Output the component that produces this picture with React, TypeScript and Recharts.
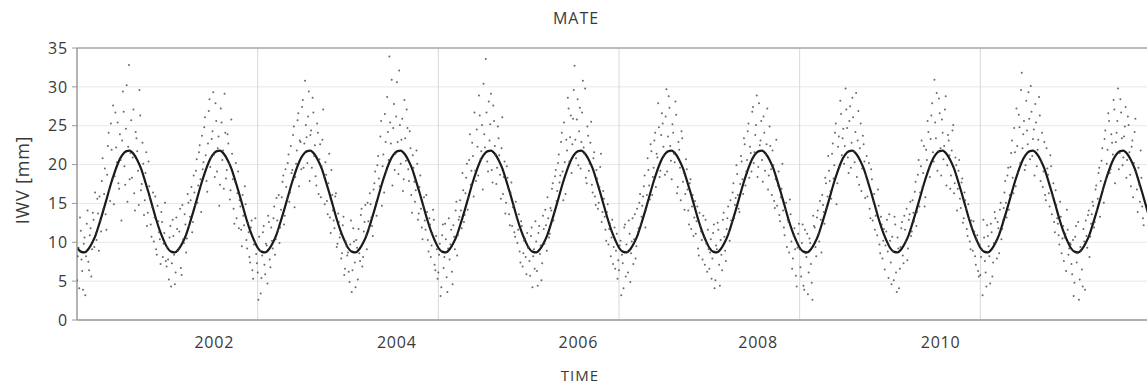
import React from "react";
import {
  ComposedChart,
  Scatter,
  Line,
  XAxis,
  YAxis,
  CartesianGrid,
  ReferenceLine,
} from "recharts";

// ---- data ----
const years = [2001, 2002, 2003, 2004, 2005, 2006, 2007, 2008, 2009, 2010, 2011, 2012];

// fitted seasonal curve, one value every half month
const fitCycle = [
  9.3, 8.8, 8.7, 9.1, 9.9, 11.0, 12.5, 14.1, 15.8, 17.5, 19.0, 20.3,
  21.2, 21.7, 21.8, 21.4, 20.6, 19.5, 18.0, 16.4, 14.7, 13.0, 11.5, 10.3,
];

// IWV samples, set A: 60 per year (about every 6 days, mid-interval)
const iwv2001 = [
  8.2, 4.1, 11.5, 6.3, 9.8, 3.2, 12.4, 7.5, 10.9, 5.6, 13.8, 9.4, 11.2, 15.6, 8.9,
  12.7, 17.9, 14.3, 19.5, 11.6, 22.4, 16.8, 25.3, 18.2, 14.9, 26.7, 20.3, 17.6, 23.9, 12.8,
  29.4, 19.8, 24.6, 15.2, 32.8, 21.5, 18.3, 27.1, 14.1, 23.4, 19.2, 29.6, 16.7, 22.8, 13.5,
  18.9, 12.1, 20.4, 15.8, 10.7, 16.4, 13.2, 9.1, 14.7, 11.3, 7.2, 12.6, 9.8, 15.1, 6.9,
];
const iwv2002 = [
  7.8, 10.6, 4.3, 12.9, 8.4, 6.1, 11.7, 9.2, 14.3, 5.8, 10.4, 13.6, 8.7, 16.2, 12.1,
  15.4, 11.3, 18.6, 14.8, 20.7, 17.3, 22.5, 13.9, 19.4, 24.8, 21.2, 16.5, 26.9, 19.7, 23.3,
  29.3, 18.4, 25.6, 22.1, 14.7, 27.2, 20.6, 16.9, 24.1, 19.3, 22.7, 15.5, 25.8, 18.1, 12.4,
  20.2, 16.3, 11.8, 14.6, 9.5, 13.4, 17.2, 10.3, 12.5, 8.1, 11.9, 6.4, 9.7, 13.1, 7.3,
];
const iwv2003 = [
  2.6, 8.9, 5.4, 11.3, 7.1, 9.8, 4.7, 12.6, 6.8, 10.2, 13.1, 8.4, 15.7, 11.5, 9.9,
  14.2, 17.8, 12.3, 19.4, 15.6, 21.3, 16.4, 18.9, 23.8, 14.5, 20.1, 25.7, 17.2, 22.9, 27.4,
  19.6, 30.8, 23.5, 26.2, 17.9, 24.4, 28.6, 21.1, 18.5, 25.3, 16.2, 22.6, 19.8, 27.1, 14.9,
  18.7, 13.6, 21.4, 11.2, 16.1, 12.8, 15.9, 9.4, 13.7, 10.6, 7.9, 12.2, 5.8, 10.1, 8.3,
];
const iwv2004 = [
  6.2, 9.7, 3.6, 11.8, 7.4, 10.3, 5.2, 8.6, 13.5, 6.9, 11.4, 14.8, 9.1, 12.7, 16.3,
  13.2, 10.8, 17.6, 15.1, 19.9, 18.2, 23.6, 14.7, 21.3, 26.5, 19.1, 24.2, 33.9, 22.7, 17.3,
  27.8, 21.4, 30.6, 18.8, 25.1, 23.2, 16.6, 28.3, 20.5, 24.7, 17.9, 22.1, 13.8, 19.6, 15.2,
  21.8, 12.9, 17.1, 14.3, 10.4, 15.8, 11.6, 13.9, 8.8, 12.3, 9.6, 14.2, 7.1, 10.8, 5.3,
];
const iwv2005 = [
  8.4, 3.1, 10.9, 6.7, 12.4, 5.5, 9.2, 7.8, 11.6, 4.6, 10.7, 14.1, 8.3, 12.9, 15.4,
  11.8, 16.7, 13.5, 18.3, 14.2, 20.6, 17.4, 22.8, 15.9, 19.2, 24.5, 18.6, 26.3, 21.7, 16.8,
  23.9, 33.6, 20.4, 28.1, 25.2, 19.3, 27.6, 22.4, 17.5, 24.9, 21.2, 15.6, 26.1, 18.4, 13.7,
  19.8, 16.9, 12.2, 17.7, 14.5, 11.3, 15.2, 9.9, 13.6, 7.4, 12.1, 8.6, 10.5, 5.9, 9.3,
];
const iwv2006 = [
  7.6, 10.8, 4.2, 9.1, 12.7, 6.3, 11.2, 8.5, 5.1, 13.4, 9.8, 12.2, 15.8, 10.6, 14.4,
  16.9, 12.8, 18.5, 15.3, 20.2, 17.7, 22.9, 19.1, 25.4, 16.2, 21.8, 27.2, 23.5, 18.9, 25.9,
  32.7, 20.8, 28.4, 24.3, 19.5, 26.7, 22.2, 29.8, 17.6, 23.7, 20.1, 25.5, 16.4, 21.6, 14.8,
  18.2, 15.1, 19.7, 12.6, 16.6, 13.3, 10.2, 14.9, 11.7, 8.2, 12.9, 9.4, 6.6, 11.1, 7.7,
];
const iwv2007 = [
  9.6, 3.2, 7.3, 11.9, 5.6, 8.8, 12.8, 4.9, 10.1, 7.2, 13.6, 9.5, 11.3, 15.1, 12.4,
  14.7, 17.2, 11.9, 16.1, 19.3, 15.5, 21.7, 18.4, 23.1, 17.1, 20.9, 24.8, 19.2, 26.6, 22.3,
  18.7, 29.7, 23.6, 27.3, 20.5, 25.2, 21.4, 28.1, 16.3, 22.9, 19.6, 24.3, 17.8, 14.2, 20.7,
  16.8, 12.3, 18.1, 14.6, 10.8, 15.3, 12.7, 9.2, 13.8, 11.4, 7.8, 10.6, 12.9, 6.2, 9.1,
];
const iwv2008 = [
  8.7, 5.3, 11.2, 4.1, 9.6, 12.5, 7.1, 10.3, 6.4, 13.8, 8.9, 11.7, 14.6, 10.2, 12.8,
  16.4, 13.1, 15.7, 18.8, 14.3, 17.5, 20.4, 16.2, 22.6, 19.1, 24.3, 18.3, 21.5, 26.8, 20.2,
  23.8, 28.9, 19.7, 22.5, 25.6, 17.8, 24.1, 21.3, 27.2, 18.6, 22.4, 16.1, 19.9, 14.4, 23.2,
  17.3, 13.5, 15.8, 20.1, 11.9, 14.2, 9.4, 12.6, 15.5, 10.1, 7.9, 11.8, 5.7, 9.3, 12.4,
];
const iwv2009 = [
  6.8, 9.9, 4.4, 11.6, 8.1, 3.3, 10.5, 7.2, 2.6, 12.1, 9.4, 13.2, 11.1, 15.3, 8.7,
  14.8, 12.4, 17.6, 15.9, 19.2, 16.6, 21.4, 18.2, 24.1, 14.9, 22.3, 19.7, 26.5, 23.4, 20.1,
  29.8, 24.7, 18.9, 27.5, 22.8, 26.1, 20.3, 29.2, 23.1, 17.4, 25.3, 19.5, 22.6, 15.7, 21.1,
  17.9, 14.3, 19.4, 12.8, 16.2, 13.4, 10.9, 14.7, 8.6, 12.3, 10.2, 6.5, 11.4, 8.8, 13.6,
];
const iwv2010 = [
  7.4, 10.7, 5.1, 12.3, 3.6, 9.2, 6.6, 11.8, 8.3, 13.4, 10.1, 7.7, 12.9, 15.2, 11.4,
  13.8, 16.5, 12.1, 18.7, 14.6, 19.8, 17.1, 22.4, 15.8, 20.6, 24.2, 18.4, 26.3, 21.6, 30.9,
  23.4, 19.2, 28.5, 22.1, 25.8, 20.7, 27.1, 17.3, 23.8, 21.2, 18.6, 24.4, 16.3, 20.9, 14.1,
  19.2, 15.6, 17.7, 12.5, 16.4, 14.3, 10.8, 13.1, 9.1, 11.9, 12.7, 8.2, 10.4, 6.3, 9.7,
];
const iwv2011 = [
  8.1, 3.2, 10.6, 6.1, 12.2, 9.5, 4.7, 11.3, 7.4, 13.9, 10.2, 12.6, 8.6, 15.1, 11.7,
  14.4, 17.9, 13.2, 19.6, 16.1, 21.5, 18.3, 24.7, 17.2, 22.4, 26.4, 20.2, 31.8, 23.9, 19.3,
  28.2, 22.6, 25.9, 30.1, 21.1, 24.5, 27.8, 19.8, 23.2, 26.3, 20.4, 17.1, 22.9, 15.4, 19.5,
  16.3, 21.2, 13.6, 17.6, 11.3, 14.8, 12.4, 9.7, 13.3, 10.5, 7.6, 11.1, 14.2, 8.4, 9.9,
];
const iwv2012 = [
  7.2, 10.3, 4.8, 12.1, 8.6, 2.6, 9.4, 6.5, 11.7, 3.9, 10.8, 13.5, 8.1, 12.4, 15.2,
  11.9, 16.8, 14.1, 18.9, 13.3, 20.5, 16.7, 23.3, 18.1, 21.9, 25.6, 19.4, 22.8, 28.3, 17.6,
  24.1, 29.8, 21.5, 26.7, 19.9, 23.6, 27.4, 20.6, 25.1, 18.7, 22.3, 15.8, 24.2, 19.1, 13.9,
  17.4, 21.8, 14.6, 12.2,
];

// IWV samples, set B: 60 per year (about every 6 days, interval start)
const iwv2001b = [
  5.1, 9.3, 13.2, 7.8, 3.9, 10.6, 8.2, 14.1, 6.4, 11.8, 9.1, 12.9, 16.4, 10.3, 13.7,
  15.9, 11.4, 20.8, 16.2, 13.6, 18.7, 24.1, 15.3, 21.9, 27.6, 18.5, 22.2, 25.4, 16.9, 20.6,
  23.1, 26.8, 17.4, 30.2, 22.3, 18.1, 25.7, 20.9, 16.3, 24.2, 21.7, 14.8, 26.3, 17.5, 20.1,
  15.4, 21.6, 13.8, 17.2, 12.3, 14.5, 10.1, 15.9, 8.4, 12.7, 10.4, 13.9, 8.1, 11.2, 7.6,
];
const iwv2002b = [
  9.4, 5.2, 12.1, 7.3, 10.8, 4.6, 13.2, 8.9, 11.4, 6.7, 14.8, 9.9, 12.3, 10.5, 15.1,
  13.3, 17.1, 12.6, 16.4, 19.2, 15.1, 21.6, 18.1, 23.7, 20.3, 26.1, 17.9, 22.7, 28.4, 20.9,
  24.3, 21.3, 27.9, 19.1, 23.6, 17.4, 25.4, 21.8, 29.1, 18.2, 23.9, 20.1, 16.7, 21.4, 14.3,
  17.8, 13.1, 19.1, 15.4, 11.6, 16.1, 12.2, 14.9, 9.2, 11.3, 7.4, 12.8, 5.3, 10.1, 8.5,
];
const iwv2003b = [
  6.1, 10.7, 3.4, 8.3, 12.1, 5.9, 9.6, 13.4, 7.8, 11.9, 9.2, 14.6, 10.4, 12.8, 16.1,
  11.9, 15.8, 18.6, 13.4, 17.1, 20.2, 15.2, 22.4, 19.3, 24.9, 18.4, 21.8, 26.6, 23.1, 19.4,
  28.3, 22.7, 25.1, 20.2, 29.4, 23.8, 19.6, 26.7, 22.5, 17.3, 24.1, 20.7, 15.8, 23.2, 18.4,
  20.3, 15.3, 17.6, 13.2, 19.3, 14.1, 11.8, 16.3, 9.8, 12.6, 11.1, 8.6, 13.3, 6.6, 9.5,
];
const iwv2004b = [
  8.7, 4.9, 12.8, 6.4, 10.1, 4.2, 9.3, 11.7, 7.6, 14.3, 8.1, 12.6, 10.9, 15.1, 11.8,
  14.9, 12.1, 16.8, 19.1, 13.4, 21.1, 17.2, 25.6, 19.8, 16.4, 22.9, 28.7, 20.6, 25.4, 30.9,
  24.7, 19.3, 26.2, 22.9, 32.1, 20.1, 25.9, 18.1, 23.4, 27.1, 19.4, 24.3, 16.1, 21.2, 17.8,
  16.7, 20.1, 13.7, 18.6, 11.9, 14.6, 12.8, 16.1, 10.3, 13.1, 8.1, 11.2, 12.9, 6.4, 9.1,
];
const iwv2005b = [
  6.1, 9.8, 4.2, 12.3, 8.1, 10.4, 3.6, 13.1, 9.7, 6.2, 12.2, 9.1, 15.2, 10.9, 13.3,
  14.1, 18.9, 12.6, 16.3, 20.1, 15.7, 23.9, 19.2, 21.1, 26.7, 17.9, 22.3, 28.9, 20.7, 25.1,
  30.4, 22.2, 26.7, 19.1, 23.1, 29.1, 17.7, 25.6, 21.3, 19.6, 23.4, 18.7, 22.1, 16.2, 20.4,
  15.1, 18.3, 13.6, 16.4, 12.1, 14.8, 10.7, 13.1, 11.6, 8.8, 12.7, 6.9, 10.2, 8.1, 11.2,
];
const iwv2006b = [
  9.4, 5.7, 11.9, 8.2, 6.6, 10.1, 4.4, 12.1, 9.6, 7.3, 11.7, 14.2, 8.9, 13.1, 11.1,
  14.1, 17.6, 13.9, 19.3, 16.6, 21.3, 18.6, 24.1, 15.4, 20.3, 23.2, 28.6, 20.4, 26.3, 22.6,
  29.6, 23.2, 25.8, 19.9, 27.3, 22.9, 30.8, 21.4, 18.3, 24.9, 19.2, 22.8, 17.4, 20.8, 15.9,
  19.3, 14.3, 17.1, 21.4, 13.9, 15.6, 11.6, 13.9, 9.7, 12.4, 10.6, 7.2, 11.9, 8.9, 5.3,
];
const iwv2007b = [
  6.4, 10.2, 8.4, 4.1, 12.3, 9.7, 6.1, 11.1, 8.6, 13.1, 10.4, 7.9, 14.3, 11.8, 16.2,
  13.3, 15.9, 18.6, 14.2, 20.8, 17.3, 22.6, 16.1, 19.6, 24.1, 21.4, 27.9, 18.4, 23.8, 25.3,
  21.1, 26.2, 19.1, 28.8, 22.4, 18.1, 24.1, 20.3, 26.4, 17.1, 21.9, 15.4, 23.4, 18.9, 16.2,
  19.4, 14.1, 17.6, 11.7, 16.1, 13.2, 11.1, 14.6, 8.3, 12.1, 10.3, 13.4, 7.1, 9.8, 11.6,
];
const iwv2008b = [
  6.6, 10.4, 7.9, 12.3, 5.1, 9.1, 11.6, 4.4, 8.4, 12.9, 10.7, 7.6, 13.1, 11.3, 15.4,
  12.6, 17.6, 14.8, 19.9, 16.1, 13.9, 21.1, 18.1, 23.4, 17.3, 20.6, 25.3, 22.3, 19.1, 27.4,
  21.6, 25.1, 18.4, 27.9, 23.1, 20.6, 26.2, 19.2, 22.6, 16.8, 24.9, 19.4, 21.8, 15.3, 18.1,
  14.7, 19.1, 12.7, 16.9, 14.1, 10.9, 15.1, 12.9, 8.7, 13.6, 6.6, 10.8, 9.1, 4.3, 11.1,
];
const iwv2009b = [
  9.1, 5.6, 12.3, 3.9, 8.6, 11.1, 6.1, 9.9, 4.8, 13.4, 11.9, 8.2, 14.1, 10.1, 12.9,
  16.1, 13.9, 18.3, 14.4, 21.1, 17.9, 15.6, 22.7, 19.9, 25.3, 17.6, 23.6, 28.2, 21.2, 24.6,
  22.4, 27.1, 20.9, 25.6, 19.6, 28.6, 21.7, 24.2, 18.4, 26.9, 22.1, 16.6, 23.7, 20.4, 18.7,
  15.9, 20.2, 13.1, 18.1, 15.3, 11.6, 14.2, 16.8, 9.7, 13.3, 7.9, 11.7, 9.6, 12.9, 5.4,
];
const iwv2010b = [
  10.2, 4.6, 8.8, 13.3, 6.1, 10.6, 4.1, 9.4, 12.6, 7.3, 11.6, 14.3, 9.2, 13.6, 10.8,
  15.4, 12.7, 17.8, 13.9, 20.6, 16.4, 23.1, 18.9, 14.6, 21.9, 25.6, 19.6, 23.3, 27.9, 20.4,
  25.4, 29.2, 21.7, 26.6, 18.6, 24.1, 22.4, 28.8, 19.9, 23.1, 16.9, 21.8, 25.1, 17.6, 19.9,
  16.9, 20.6, 14.4, 18.2, 13.1, 15.4, 11.7, 14.9, 10.1, 12.8, 8.9, 11.4, 7.1, 10.9, 5.6,
];
const iwv2011b = [
  5.8, 9.1, 12.9, 7.6, 4.3, 10.8, 8.2, 12.4, 5.6, 9.9, 13.1, 7.9, 11.8, 14.2, 10.4,
  12.8, 16.4, 15.1, 18.6, 14.2, 19.7, 23.1, 16.3, 21.6, 27.2, 18.9, 24.8, 29.6, 22.1, 25.6,
  19.9, 24.4, 29.3, 20.7, 26.8, 23.3, 18.6, 25.4, 21.9, 28.7, 17.9, 24.1, 19.1, 16.1, 22.1,
  18.7, 14.6, 19.8, 15.9, 12.6, 16.7, 13.1, 10.9, 15.2, 8.6, 12.1, 10.6, 6.3, 11.6, 9.2,
];
const iwv2012b = [
  9.7, 5.9, 3.1, 10.7, 7.4, 12.6, 5.2, 8.9, 4.3, 10.1, 12.8, 9.3, 14.1, 10.7, 13.6,
  14.7, 12.6, 17.3, 15.6, 19.6, 17.9, 22.1, 15.1, 24.4, 20.1, 26.6, 18.9, 23.9, 21.3, 27.1,
  22.9, 25.6, 19.4, 28.4, 23.4, 20.9, 24.9, 18.3, 26.2, 21.6, 17.2, 23.1, 20.2, 25.9, 16.8,
  19.6, 15.2, 18.3, 13.1,
];

const seriesA = [
  iwv2001, iwv2002, iwv2003, iwv2004, iwv2005, iwv2006,
  iwv2007, iwv2008, iwv2009, iwv2010, iwv2011, iwv2012,
];
const seriesB = [
  iwv2001b, iwv2002b, iwv2003b, iwv2004b, iwv2005b, iwv2006b,
  iwv2007b, iwv2008b, iwv2009b, iwv2010b, iwv2011b, iwv2012b,
];

const xTicks = [2002.52, 2004.54, 2006.55, 2008.54, 2010.56];
const xTickLabels = ["2002", "2004", "2006", "2008", "2010"];
const gridYears = [2003, 2005, 2007, 2009, 2011];
const yTicks = [0, 5, 10, 15, 20, 25, 30, 35];

const title = "MATE";
const xTitle = "TIME";
const yTitle = "IWV [mm]";

// ---- tables built from the arrays ----
const scatterData = [
  ...seriesA.flatMap((vals, k) => vals.map((v, i) => ({ t: years[k] + (i + 0.5) / 60, v }))),
  ...seriesB.flatMap((vals, k) => vals.map((v, i) => ({ t: years[k] + i / 60, v }))),
];

const curveData = [
  ...years.flatMap((y) => fitCycle.map((v, i) => ({ t: y + i / fitCycle.length, v }))),
  { t: 2013, v: fitCycle[0] },
];

const font = "'Open Sans', 'Liberation Sans', sans-serif";
const textColor = "#3a3a3a";

const Speck = (props: any) => {
  const { cx, cy } = props;
  if (cx == null || cy == null) return null;
  return <circle cx={cx} cy={cy} r={1.0} fill="#444" fillOpacity={0.8} />;
};

export default function App() {
  return (
    <div
      style={{
        position: "absolute",
        left: 0,
        top: 0,
        width: 1147,
        height: 384,
        background: "#fff",
        overflow: "hidden",
        fontFamily: font,
      }}
    >
      <div
        style={{
          position: "absolute",
          left: 0,
          width: 1152,
          top: 9,
          height: 18,
          lineHeight: "18px",
          textAlign: "center",
          fontSize: 16,
          color: textColor,
          letterSpacing: 1,
        }}
      >
        {title}
      </div>
      <div
        style={{
          position: "absolute",
          left: 0,
          width: 1160,
          top: 367,
          height: 17,
          lineHeight: "17px",
          textAlign: "center",
          fontSize: 15,
          color: textColor,
          letterSpacing: 1,
        }}
      >
        {xTitle}
      </div>
      <div
        style={{
          position: "absolute",
          left: 22 - 60,
          top: 180 - 12,
          width: 120,
          height: 24,
          lineHeight: "24px",
          textAlign: "center",
          fontSize: 18,
          color: textColor,
          letterSpacing: 0.8,
          transform: "rotate(-90deg)",
        }}
      >
        {yTitle}
      </div>
      <ComposedChart
        width={1147}
        height={384}
        margin={{ top: 48, right: 0, bottom: 0, left: 0 }}
        style={{ position: "absolute", left: 0, top: 0 }}
      >
        <CartesianGrid vertical={false} stroke="#e8e8e8" strokeWidth={1} />
        <XAxis
          type="number"
          dataKey="t"
          domain={[2001, 2012.845]}
          allowDataOverflow
          ticks={xTicks}
          tickFormatter={(v: number) => xTickLabels[xTicks.indexOf(v)] ?? ""}
          height={64}
          tickLine={false}
          tickSize={0}
          tickMargin={17}
          axisLine={{ stroke: "#9a9a9a", strokeWidth: 1.5 }}
          tick={{ fill: textColor, fontSize: 16, fontFamily: font, letterSpacing: 0.8 }}
        />
        <YAxis
          type="number"
          dataKey="v"
          domain={[0, 35]}
          ticks={yTicks}
          allowDataOverflow
          width={77}
          tickSize={5}
          tickMargin={4}
          tickLine={{ stroke: "#9a9a9a" }}
          axisLine={{ stroke: "#9a9a9a", strokeWidth: 1.5 }}
          tick={{ fill: textColor, fontSize: 16, fontFamily: font, letterSpacing: 0.8 }}
        />
        {gridYears.map((g) => (
          <ReferenceLine key={g} x={g} stroke="#d8d8d8" strokeWidth={1} />
        ))}
        <ReferenceLine y={35} stroke="#a8a8a8" strokeWidth={1.5} />
        <Scatter
          data={scatterData}
          dataKey="v"
          shape={Speck}
          isAnimationActive={false}
        />
        <Line
          data={curveData}
          dataKey="v"
          type="monotone"
          dot={false}
          stroke="#1a1a1a"
          strokeWidth={2.2}
          isAnimationActive={false}
        />
      </ComposedChart>
    </div>
  );
}
